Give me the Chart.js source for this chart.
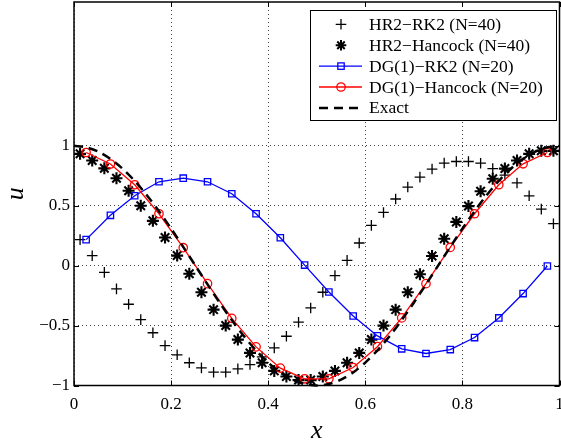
<!DOCTYPE html>
<html>
<head>
<meta charset="utf-8">
<script src="https://cdn.jsdelivr.net/npm/chart.js@4"></script>
<style>
  html, body { margin: 0; padding: 0; background: #fff; }
  #wrap { position: relative; width: 561px; height: 445px; }
</style>
</head>
<body>
<div id="wrap"><canvas id="c" width="561" height="445"></canvas></div>
<script>
// Cell centres of the fine (N=40) and coarse (N=20) grids
const xFine = [0.0125, 0.0375, 0.0625, 0.0875, 0.1125, 0.1375, 0.1625, 0.1875, 0.2125, 0.2375,
               0.2625, 0.2875, 0.3125, 0.3375, 0.3625, 0.3875, 0.4125, 0.4375, 0.4625, 0.4875,
               0.5125, 0.5375, 0.5625, 0.5875, 0.6125, 0.6375, 0.6625, 0.6875, 0.7125, 0.7375,
               0.7625, 0.7875, 0.8125, 0.8375, 0.8625, 0.8875, 0.9125, 0.9375, 0.9625, 0.9875];
const xCoarse = [0.025, 0.075, 0.125, 0.175, 0.225, 0.275, 0.325, 0.375, 0.425, 0.475,
                 0.525, 0.575, 0.625, 0.675, 0.725, 0.775, 0.825, 0.875, 0.925, 0.975];

// HR2 with RK2 time stepping, N=40
const hr2Rk2 = [0.217, 0.083, -0.056, -0.194, -0.322, -0.45, -0.56, -0.667, -0.744, -0.81,
                -0.853, -0.889, -0.889, -0.861, -0.825, -0.761, -0.686, -0.589, -0.472, -0.353,
                -0.222, -0.083, 0.044, 0.189, 0.336, 0.444, 0.556, 0.656, 0.739, 0.806,
                0.856, 0.869, 0.869, 0.855, 0.81, 0.755, 0.69, 0.583, 0.472, 0.35];
// HR2 with Hancock time stepping, N=40
const hr2Hancock = [0.933, 0.878, 0.812, 0.729, 0.625, 0.5, 0.374, 0.235, 0.084, -0.068,
                    -0.222, -0.367, -0.5, -0.617, -0.728, -0.81, -0.878, -0.925, -0.955, -0.955,
                    -0.925, -0.878, -0.81, -0.728, -0.617, -0.5, -0.367, -0.222, -0.072, 0.08,
                    0.225, 0.365, 0.497, 0.621, 0.725, 0.81, 0.878, 0.933, 0.958, 0.958];
// DG(1) with RK2, N=20
const dgRk2 = [0.217, 0.42, 0.583, 0.70, 0.73, 0.70, 0.60, 0.433, 0.233, 0.005,
               -0.22, -0.42, -0.586, -0.694, -0.733, -0.70, -0.60, -0.436, -0.233, -0.003];
// DG(1) with Hancock, N=20
const dgHancock = [0.944, 0.848, 0.675, 0.433, 0.15, -0.15, -0.44, -0.678, -0.855, -0.944,
                   -0.944, -0.85, -0.676, -0.436, -0.15, 0.152, 0.433, 0.675, 0.85, 0.944];

// Exact solution sampled on a fine grid
const xExact = [0, 0.025, 0.05, 0.075, 0.1, 0.125, 0.15, 0.175, 0.2, 0.225,
                0.25, 0.275, 0.3, 0.325, 0.35, 0.375, 0.4, 0.425, 0.45, 0.475,
                0.5, 0.525, 0.55, 0.575, 0.6, 0.625, 0.65, 0.675, 0.7, 0.725,
                0.75, 0.775, 0.8, 0.825, 0.85, 0.875, 0.9, 0.925, 0.95, 0.975, 1];
const uExact = [1, 0.9877, 0.9511, 0.891, 0.809, 0.7071, 0.5878, 0.454, 0.309, 0.1564,
                0, -0.1564, -0.309, -0.454, -0.5878, -0.7071, -0.809, -0.891, -0.9511, -0.9877,
                -1, -0.9877, -0.9511, -0.891, -0.809, -0.7071, -0.5878, -0.454, -0.309, -0.1564,
                0, 0.1564, 0.309, 0.454, 0.5878, 0.7071, 0.809, 0.891, 0.9511, 0.9877, 1];

const xTicks = [0, 0.2, 0.4, 0.6, 0.8, 1];
const yTicks = [-1, -0.5, 0, 0.5, 1];

const seriesLabels = ['HR2\u2212RK2 (N=40)', 'HR2\u2212Hancock (N=40)', 'DG(1)\u2212RK2 (N=20)',
                      'DG(1)\u2212Hancock (N=20)', 'Exact'];

const pts = (xs, ys) => xs.map((x, i) => ({ x, y: ys[i] }));
const SERIF = '"Liberation Serif", "Times New Roman", serif';
const fmt = v => { const s = String(Math.round(v * 10) / 10); return s.replace('-', '\u2212'); };
const noPad = s => { s.paddingTop = 0; s.paddingBottom = 0; s.paddingLeft = 0; s.paddingRight = 0; };

// Boxed axes with inward tick marks, plus the boxed legend
const framePlugin = {
  id: 'frame',
  beforeDatasetsDraw(chart) {
    const { ctx, chartArea: a, scales: { x, y } } = chart;
    ctx.save();
    ctx.strokeStyle = '#000';
    ctx.lineWidth = 1;
    ctx.beginPath();
    xTicks.forEach(v => {
      const px = Math.round(x.getPixelForValue(v)) + 0.5;
      ctx.moveTo(px, a.bottom); ctx.lineTo(px, a.bottom - 5);
      ctx.moveTo(px, a.top); ctx.lineTo(px, a.top + 5);
    });
    yTicks.forEach(v => {
      const py = Math.round(y.getPixelForValue(v)) + 0.5;
      ctx.moveTo(a.left, py); ctx.lineTo(a.left + 5, py);
      ctx.moveTo(a.right, py); ctx.lineTo(a.right - 5, py);
    });
    ctx.stroke();
    ctx.lineWidth = 1.5;
    ctx.strokeRect(a.left, a.top, a.right - a.left, a.bottom - a.top);
    ctx.restore();
  },
  afterDraw(chart) {
    const { ctx } = chart;
    ctx.save();
    ctx.fillStyle = '#fff';
    ctx.fillRect(310.5, 10.5, 246, 110);
    ctx.strokeStyle = '#000';
    ctx.lineWidth = 1;
    ctx.strokeRect(310.5, 10.5, 246, 110);

    const rowY = [24.3, 45.2, 66.1, 87, 107.9];
    const x0 = 319, x1 = 362, xm = 341, xt = 369;
    ctx.font = '17.5px ' + SERIF;
    ctx.textBaseline = 'middle';
    ctx.textAlign = 'left';

    rowY.forEach((yy, i) => {
      ctx.lineCap = 'butt';
      ctx.setLineDash([]);
      if (i === 0) {
        ctx.strokeStyle = '#000'; ctx.lineWidth = 1.3;
        ctx.beginPath();
        ctx.moveTo(xm - 5.3, yy); ctx.lineTo(xm + 5.3, yy);
        ctx.moveTo(xm, yy - 5.3); ctx.lineTo(xm, yy + 5.3);
        ctx.stroke();
      } else if (i === 1) {
        ctx.strokeStyle = '#000'; ctx.lineWidth = 2;
        const r = 5.3, d = r * Math.SQRT1_2;
        ctx.beginPath();
        ctx.moveTo(xm - r, yy); ctx.lineTo(xm + r, yy);
        ctx.moveTo(xm, yy - r); ctx.lineTo(xm, yy + r);
        ctx.moveTo(xm - d, yy - d); ctx.lineTo(xm + d, yy + d);
        ctx.moveTo(xm - d, yy + d); ctx.lineTo(xm + d, yy - d);
        ctx.stroke();
      } else if (i === 2) {
        ctx.strokeStyle = '#0000ff'; ctx.lineWidth = 1.3;
        ctx.beginPath(); ctx.moveTo(x0, yy); ctx.lineTo(x1, yy); ctx.stroke();
        ctx.strokeRect(xm - 3.2, yy - 3.2, 6.4, 6.4);
      } else if (i === 3) {
        ctx.strokeStyle = '#ff0000'; ctx.lineWidth = 1.3;
        ctx.beginPath(); ctx.moveTo(x0, yy); ctx.lineTo(x1, yy); ctx.stroke();
        ctx.beginPath(); ctx.arc(xm, yy, 4.2, 0, Math.PI * 2); ctx.stroke();
      } else {
        ctx.strokeStyle = '#000'; ctx.lineWidth = 2.5;
        ctx.setLineDash([9, 6]);
        ctx.beginPath(); ctx.moveTo(x0, yy); ctx.lineTo(x1, yy); ctx.stroke();
        ctx.setLineDash([]);
      }
      ctx.fillStyle = '#000';
      ctx.fillText(seriesLabels[i], xt, yy + 1);
    });
    ctx.restore();
  }
};

new Chart(document.getElementById('c'), {
  type: 'line',
  data: {
    datasets: [
      {
        label: seriesLabels[0], data: pts(xFine, hr2Rk2), order: 5,
        showLine: false, pointStyle: 'cross', pointRadius: 5.3, pointBorderWidth: 1.3,
        pointBorderColor: '#000', borderColor: '#000', pointBackgroundColor: 'transparent'
      },
      {
        label: seriesLabels[1], data: pts(xFine, hr2Hancock), order: 4,
        showLine: false, pointStyle: 'star', pointRadius: 6, pointBorderWidth: 2.1,
        pointBorderColor: '#000', borderColor: '#000', pointBackgroundColor: 'transparent'
      },
      {
        label: seriesLabels[2], data: pts(xCoarse, dgRk2), order: 3,
        borderColor: '#0000ff', borderWidth: 1.3, tension: 0,
        pointStyle: 'rect', pointRadius: 4.5, pointBorderWidth: 1.3,
        pointBorderColor: '#0000ff', pointBackgroundColor: 'transparent'
      },
      {
        label: seriesLabels[3], data: pts(xCoarse, dgHancock), order: 2,
        borderColor: '#ff0000', borderWidth: 1.3, tension: 0,
        pointStyle: 'circle', pointRadius: 4.2, pointBorderWidth: 1.3,
        pointBorderColor: '#ff0000', pointBackgroundColor: 'transparent'
      },
      {
        label: seriesLabels[4], data: pts(xExact, uExact), order: 1,
        borderColor: '#000', borderWidth: 2.5, borderDash: [9, 6], tension: 0.3,
        pointRadius: 0
      }
    ]
  },
  options: {
    responsive: false,
    animation: false,
    events: [],
    clip: false,
    layout: { padding: { top: 2, right: 1.5, left: 0, bottom: 0 }, autoPadding: false },
    plugins: { legend: { display: false }, tooltip: { enabled: false } },
    scales: {
      x: {
        type: 'linear', min: 0, max: 1,
        afterFit: s => { s.height = 59.5; noPad(s); },
        afterBuildTicks: s => { s.ticks = xTicks.map(v => ({ value: v })); },
        ticks: { color: '#000', font: { family: SERIF, size: 17 }, padding: 9,
                 maxRotation: 0, autoSkip: false, callback: v => fmt(v) },
        grid: { color: 'rgba(0,0,0,0.75)', lineWidth: 1, drawTicks: false },
        border: { display: false, dash: [1, 3] },
        title: { display: true, text: 'x', color: '#000',
                 font: { family: SERIF, size: 26, style: 'italic', lineHeight: 1 },
                 padding: { top: 0, bottom: 1 } }
      },
      y: {
        type: 'linear', min: -1, max: 2.2,
        afterFit: s => { s.width = 74; noPad(s); },
        afterBuildTicks: s => { s.ticks = yTicks.map(v => ({ value: v })); },
        ticks: { color: '#000', font: { family: SERIF, size: 17 }, padding: 4,
                 autoSkip: false, callback: v => fmt(v) },
        grid: { color: 'rgba(0,0,0,0.75)', lineWidth: 1, drawTicks: false },
        border: { display: false, dash: [1, 3] },
        title: { display: true, text: 'u', color: '#000',
                 font: { family: SERIF, size: 26, style: 'italic', lineHeight: 1 },
                 padding: { top: 3, bottom: 0 } }
      }
    }
  },
  plugins: [framePlugin]
});
</script>
</body>
</html>
